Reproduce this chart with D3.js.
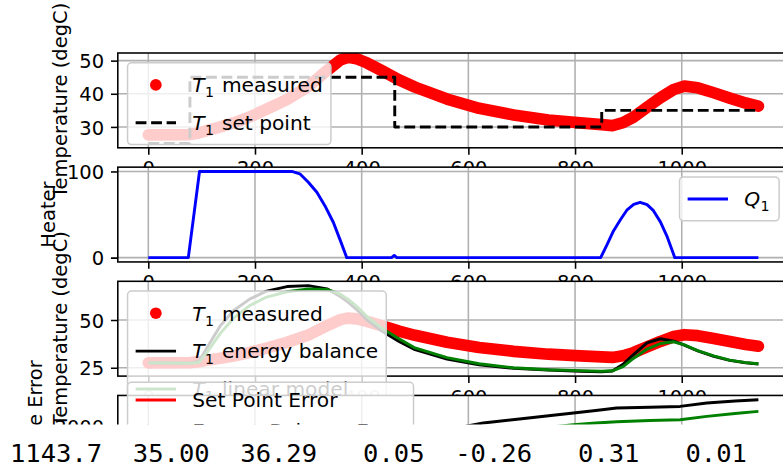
<!DOCTYPE html>
<html><head><meta charset="utf-8">
<script src="https://cdn.jsdelivr.net/npm/d3@7"></script>
<style>
html,body{margin:0;padding:0;background:#fff;overflow:hidden;}
svg{display:block;}
</style></head><body>
<svg id="chart" width="783" height="471"></svg>
<script>
// ---------------- data ----------------
const xTicks = [0, 200, 400, 600, 800, 1000];
const yTicks1 = [30, 40, 50];
const yTicks2 = [0, 100];
const yTicks3 = [25, 50];
const yTicks4 = [0, 1000, 2000];

const timeT = [0, 78, 95, 110, 135, 160, 190, 220, 260, 300, 335, 360, 375, 390, 410, 440, 470, 500, 560, 620, 685, 750, 810, 850, 870, 890, 910, 935, 960, 985, 1005, 1030, 1060, 1090, 1120, 1143.7];
const T1measured = [27.6, 27.7, 28.2, 28.9, 30.0, 31.2, 33.0, 35.2, 38.3, 42.2, 47.0, 50.2, 51.0, 50.6, 49.3, 46.8, 44.2, 42.0, 38.4, 35.6, 33.6, 32.1, 31.2, 30.7, 30.4, 31.3, 33.0, 35.9, 38.8, 41.3, 42.3, 41.8, 40.3, 38.7, 37.2, 36.29];
const T1energy = [27.6, 27.4, 28.3, 35.5, 47.0, 55.0, 60.9, 65.0, 67.5, 68.0, 66.3, 62.3, 59.2, 55.6, 50.0, 43.8, 38.8, 34.5, 29.6, 26.6, 24.7, 23.8, 23.2, 22.9, 23.3, 26.8, 32.0, 38.0, 40.2, 38.9, 36.8, 33.8, 31.0, 28.9, 27.6, 27.0];
const T1linear = [27.6, 27.4, 27.8, 33.0, 43.0, 51.0, 57.5, 61.8, 64.8, 66.2, 66.0, 63.5, 60.8, 57.3, 51.8, 45.3, 40.2, 35.4, 30.3, 27.1, 25.0, 24.0, 23.5, 23.2, 23.4, 25.6, 30.0, 34.8, 37.7, 38.6, 37.0, 34.0, 31.2, 29.0, 27.7, 27.1];

const timeSP = [0, 78, 78, 462, 462, 850, 850, 1143.7];
const T1setpoint = [25, 25, 45, 45, 30, 30, 35, 35];

const timeQ = [0, 75, 96, 269, 284, 300, 316, 331, 347, 359, 372, 456, 461, 466, 848, 860, 872, 885, 897, 910, 922, 935, 947, 960, 972, 987, 1143.7];
const Q1 = [0, 0, 100, 100, 97.3, 87.5, 75.8, 60.3, 40.8, 21.5, 0, 0, 2.5, 0, 0, 15, 31, 44, 55, 61.8, 64.2, 61.5, 54.5, 41.5, 25.3, 0, 0];

const timeErr = [0, 100, 200, 300, 400, 500, 628, 700, 797, 839, 878, 940, 997, 1047, 1100, 1143.7];
const errSetPoint = [0, 20, 520, 800, 960, 1100, 1260, 1330, 1420, 1450, 1480, 1530, 1580, 1620, 1660, 1690];
const errEnergy = [0, 40, 560, 1080, 1430, 1690, 2118, 2260, 2454, 2540, 2622, 2650, 2676, 2790, 2860, 2900];
const errLinear = [0, 30, 420, 860, 1200, 1460, 1740, 1880, 2060, 2118, 2160, 2200, 2229, 2340, 2440, 2508];

const printRow = ["1143.7", "35.00", "36.29", "0.05", "-0.26", "0.31", "0.01"];

// ---------------- layout ----------------
const PT = 1.95, FS = 19.5, LFS = 20.2;
const FONT = '"DejaVu Sans", sans-serif';
const axLeft = 117.8, axRight = 788.9, axTop0 = 53, axPitch = 114.15, axH = 94.8;
const cutY = 424.4;
const padExt = ([a, b]) => [a - 0.05 * (b - a), b + 0.05 * (b - a)];
const root = d3.select('#chart');
root.append('rect').attr('width', 783).attr('height', 471).attr('fill', '#fff');
// the figure image is cut off at cutY (scrolling output area)
const svg = root.append('svg').attr('x', 0).attr('y', 0).attr('width', 783).attr('height', cutY)
  .attr('overflow', 'hidden');

const x = d3.scaleLinear().domain(padExt(d3.extent(timeT))).range([axLeft, axRight]);

const mathLabel = (a, b, rest) => [{t: a, it: true}, {t: b, sub: true}, {t: rest}];

const axesCfg = [
  { yTicks: yTicks1, ylabel: 'Temperature (degC)', legend: {loc: 'upper left', math: true}, xLabels: true,
    series: [
      {t: timeT, v: T1measured, kind: 'band', color: '#ff0000', label: mathLabel('T', '1', ' measured')},
      {t: timeSP, v: T1setpoint, kind: 'dash', color: '#000000', label: mathLabel('T', '1', ' set point')}
    ]},
  { yTicks: yTicks2, ylabel: 'Heater', legend: {loc: 'upper right', math: true}, xLabels: true,
    series: [
      {t: timeQ, v: Q1, kind: 'line', color: '#0000ff', label: [{t: 'Q', it: true}, {t: '1', sub: true}]}
    ]},
  { yTicks: yTicks3, ylabel: 'Temperature (degC)', legend: {loc: 'upper left', math: true}, xLabels: true,
    series: [
      {t: timeT, v: T1measured, kind: 'band', color: '#ff0000', label: mathLabel('T', '1', ' measured')},
      {t: timeT, v: T1energy, kind: 'line', color: '#000000', label: mathLabel('T', '1', ' energy balance')},
      {t: timeT, v: T1linear, kind: 'line', color: '#008000', label: mathLabel('T', '1', ' linear model')}
    ]},
  { yTicks: yTicks4, ylabel: 'Cumulative Error', legend: {loc: 'lower left', math: false}, xLabels: false,
    series: [
      {t: timeErr, v: errSetPoint, kind: 'line', color: '#ff0000', label: [{t: 'Set Point Error'}]},
      {t: timeErr, v: errEnergy, kind: 'line', color: '#000000', label: [{t: 'Energy Balance Error'}]},
      {t: timeErr, v: errLinear, kind: 'line', color: '#008000', label: [{t: 'Linear Model Error'}]}
    ]}
];

function addRich(sel, parts, fs) {
  const sub = 0.25 * fs;
  let shifted = false;
  parts.forEach(p => {
    const ts = sel.append('tspan').text(p.t);
    if (p.it) ts.attr('font-style', 'italic');
    if (p.sub) { ts.attr('font-size', 0.7 * fs).attr('dy', sub).attr('dx', 0.5); shifted = true; }
    else if (shifted) { ts.attr('dy', -sub).attr('dx', 1.5); shifted = false; }
  });
}

function styleSeries(path, s) {
  path.attr('fill', 'none').attr('stroke', s.color);
  if (s.kind === 'band') path.attr('stroke-width', 6 * PT).attr('stroke-linecap', 'round').attr('stroke-linejoin', 'round');
  else path.attr('stroke-width', 1.5 * PT).attr('stroke-linejoin', 'round');
  if (s.kind === 'dash') path.attr('stroke-dasharray', `${3.7 * 1.5 * PT} ${1.6 * 1.5 * PT}`);
}

axesCfg.forEach((cfg, i) => {
  const top = axTop0 + i * axPitch, bottom = top + axH;
  const allV = cfg.series.flatMap(s => s.v);
  const y = d3.scaleLinear().domain(padExt(d3.extent(allV))).range([bottom, top]);
  const g = svg.append('g');
  g.append('rect').attr('x', axLeft).attr('y', top).attr('width', axRight - axLeft).attr('height', axH).attr('fill', '#fff');
  const cid = 'clip' + i;
  g.append('clipPath').attr('id', cid).append('rect')
    .attr('x', axLeft).attr('y', top).attr('width', axRight - axLeft).attr('height', axH);
  // grid
  const grid = g.append('g').attr('stroke', '#b0b0b0').attr('stroke-width', 0.8 * PT);
  xTicks.forEach(t => grid.append('line').attr('x1', x(t)).attr('x2', x(t)).attr('y1', top).attr('y2', bottom));
  cfg.yTicks.forEach(t => grid.append('line').attr('x1', axLeft).attr('x2', axRight).attr('y1', y(t)).attr('y2', y(t)));
  // series
  const sg = g.append('g').attr('clip-path', `url(#${cid})`);
  cfg.series.forEach(s => {
    const line = d3.line().x((d, k) => x(s.t[k])).y(d => y(d));
    styleSeries(sg.append('path').attr('d', line(s.v)), s);
  });
  // frame
  g.append('rect').attr('x', axLeft).attr('y', top).attr('width', axRight - axLeft).attr('height', axH)
    .attr('fill', 'none').attr('stroke', '#000').attr('stroke-width', 0.8 * PT);
  // axes
  const tick = 3.5 * PT;
  const axes = [];
  if (cfg.xLabels) {
    axes.push(g.append('g').attr('transform', `translate(0,${bottom})`)
      .call(d3.axisBottom(x).tickValues(xTicks).tickSize(tick).tickPadding(tick).tickFormat(d3.format('d'))));
  }
  const ya = g.append('g').attr('transform', `translate(${axLeft},0)`)
    .call(d3.axisLeft(y).tickValues(cfg.yTicks).tickSize(tick).tickPadding(tick).tickFormat(d3.format('d')));
  axes.push(ya);
  axes.forEach(a => {
    a.select('.domain').remove();
    a.attr('font-size', FS).attr('font-family', FONT);
    a.selectAll('line').attr('stroke', '#000').attr('stroke-width', 0.8 * PT);
    a.selectAll('text').attr('fill', '#000');
  });
  ya.selectAll('text').attr('dy', null).attr('y', 0.364 * FS);
  // ylabel
  let minLeft = axLeft;
  ya.selectAll('text').each(function () { minLeft = Math.min(minLeft, this.getBBox().x + axLeft); });
  const lx = minLeft - 4 * PT - 0.236 * FS;
  g.append('text').attr('transform', `translate(${lx},${(top + bottom) / 2}) rotate(-90)`)
    .attr('text-anchor', 'middle').attr('font-family', FONT).attr('font-size', FS).attr('fill', '#000')
    .text(cfg.ylabel);
  // legend
  const L = cfg.legend;
  const bp = 0.4 * LFS, hl = 2 * LFS, htp = 0.8 * LFS, bap = 0.5 * FS, ls = 0.5 * LFS;
  const rowH = L.math ? 27.8 : 20.6;
  const n = cfg.series.length;
  const boxH = 2 * bp + n * rowH + (n - 1) * ls;
  const lg = g.append('g');
  const frame = lg.append('rect');
  let maxW = 0;
  cfg.series.forEach((s, k) => {
    const cy = bp + rowH / 2 + k * (rowH + ls) + (L.math ? 0.2 : -0.8);
    if (s.kind === 'band') {
      lg.append('circle').attr('cx', bp + hl / 2).attr('cy', cy).attr('r', 3 * PT).attr('fill', s.color);
    } else {
      const ln = lg.append('path').attr('d', `M${bp},${cy}H${bp + hl}`);
      styleSeries(ln, s);
    }
    const tx = lg.append('text').attr('x', bp + hl + htp).attr('y', cy + 0.3645 * LFS)
      .attr('font-family', FONT).attr('font-size', LFS).attr('fill', '#000').style('white-space', 'pre');
    addRich(tx, s.label, LFS);
    maxW = Math.max(maxW, tx.node().getComputedTextLength() + (L.math ? 2 : 0));
  });
  const boxW = 2 * bp + hl + htp + maxW;
  frame.attr('width', boxW).attr('height', boxH).attr('rx', 0.2 * LFS).attr('ry', 0.2 * LFS)
    .attr('fill', '#fff').attr('fill-opacity', 0.8).attr('stroke', '#cccccc').attr('stroke-width', 1.5);
  let bx, by;
  if (L.loc === 'upper left') { bx = axLeft + bap; by = top + bap; }
  else if (L.loc === 'upper right') { bx = axRight - bap - boxW; by = top + bap; }
  else { bx = axLeft + bap; by = bottom - bap - boxH; }
  lg.attr('transform', `translate(${bx},${by})`);
});

// printed output line below the figure
root.append('text').attr('x', 10).attr('y', 461.7)
  .attr('font-family', '"DejaVu Sans Mono", monospace').attr('font-size', 25.5).attr('fill', '#000')
  .attr('xml:space', 'preserve').style('white-space', 'pre')
  .text(printRow.map(s => s.padStart(6)).join(' '));
</script>
</body></html>
